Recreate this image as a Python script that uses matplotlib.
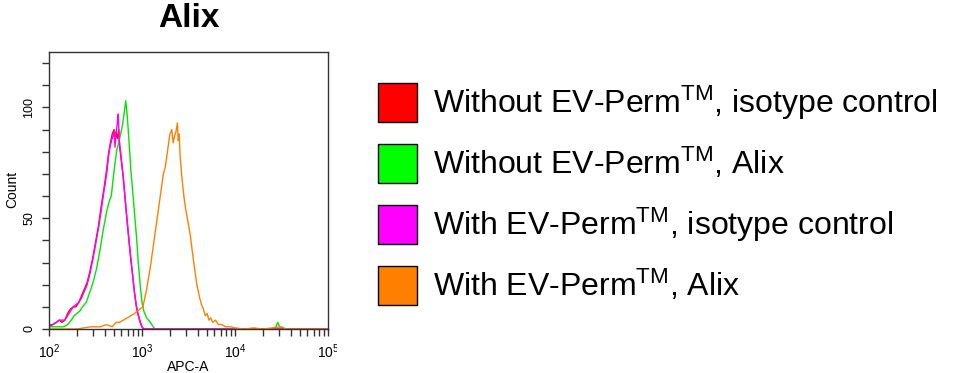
import numpy as np
import matplotlib
matplotlib.use("Agg")
import matplotlib.pyplot as plt
from matplotlib.patches import Patch, Rectangle
from matplotlib.ticker import FixedLocator, NullFormatter

plt.rcParams['font.family'] = ['Liberation Sans', 'DejaVu Sans']
plt.rcParams['mathtext.fontset'] = 'custom'
plt.rcParams['mathtext.rm'] = 'Liberation Sans'
plt.rcParams['mathtext.it'] = 'Liberation Sans'
plt.rcParams['mathtext.bf'] = 'Liberation Sans:bold'

# ---- data (x in log10 APC-A units, y = count) ----
red_logx = [2.00, 2.04, 2.08, 2.11, 2.14, 2.17, 2.20, 2.23, 2.26, 2.29, 2.32, 2.35, 2.38, 2.41,
            2.44, 2.47, 2.50, 2.53, 2.56, 2.59, 2.62, 2.64, 2.66, 2.68, 2.70, 2.71, 2.72, 2.735,
            2.75, 2.76, 2.78, 2.80, 2.82, 2.84, 2.86, 2.88, 2.90, 2.92, 2.94, 2.96, 2.98, 3.00,
            3.02, 5.00]
red_count = [1, 2, 3, 4, 3, 4, 7, 9, 10, 10, 12, 15, 18, 21,
             26, 32, 39, 46, 55, 63, 72, 79, 84, 88, 90, 84, 89, 86,
             90, 82, 75, 68, 58, 49, 40, 31, 24, 16, 10, 6, 3, 1,
             0, 0]

green_logx = [2.00, 2.10, 2.16, 2.20, 2.24, 2.27, 2.30, 2.33, 2.36, 2.40, 2.45, 2.48, 2.51,
              2.55, 2.58, 2.62, 2.65, 2.67, 2.69, 2.71, 2.73, 2.75, 2.77, 2.79, 2.81, 2.825,
              2.84, 2.86, 2.88, 2.90, 2.92, 2.94, 2.96, 2.98, 3.00, 3.02, 3.05, 3.09, 3.12,
              3.14, 4.40, 4.44, 4.46, 4.48, 4.52, 5.00]
green_count = [1, 1, 1, 2, 4, 6, 7, 8, 10, 12, 18, 22, 27,
               36, 44, 53, 58, 60, 68, 75, 81, 84, 88, 92, 98, 103,
               97, 85, 72, 62, 52, 42, 30, 20, 12, 8, 5, 3, 1,
               0, 0, 1, 3, 1, 0, 0]

magenta_logx = [2.000, 2.003, 2.04, 2.08, 2.11, 2.14, 2.17, 2.20, 2.23, 2.26, 2.29, 2.32, 2.35,
                2.38, 2.41, 2.44, 2.47, 2.50, 2.53, 2.56, 2.59, 2.62, 2.64, 2.66, 2.68, 2.70,
                2.71, 2.72, 2.735, 2.745, 2.755, 2.77, 2.79, 2.81, 2.83, 2.85, 2.87, 2.89,
                2.91, 2.93, 2.95, 2.97, 2.99, 3.01, 5.00]
magenta_count = [17, 2, 2, 3, 4, 4, 4, 6, 8, 10, 11, 12, 14,
                 17, 20, 25, 31, 38, 45, 53, 62, 70, 78, 83, 86, 89,
                 82, 88, 93, 97, 85, 80, 72, 63, 53, 44, 36, 28,
                 20, 13, 8, 5, 2, 0, 0]

orange_logx = [2.00, 2.30, 2.45, 2.55, 2.62, 2.68, 2.72, 2.76, 2.80, 2.84, 2.88, 2.92, 2.95,
               2.98, 3.01, 3.03, 3.05, 3.07, 3.09, 3.11, 3.13, 3.16, 3.19, 3.21, 3.23, 3.25,
               3.28, 3.30, 3.32, 3.335, 3.35, 3.365, 3.38, 3.39, 3.40, 3.41, 3.43, 3.45, 3.47,
               3.50, 3.52, 3.55, 3.57, 3.59, 3.62, 3.64, 3.66, 3.68, 3.70, 3.72, 3.74, 3.76,
               3.79, 3.82, 3.86, 3.90, 3.95, 4.00, 4.10, 4.20, 4.30, 4.50, 4.55, 5.00]
orange_count = [0, 0, 1, 1, 2, 1, 3, 3, 4, 5, 6, 7, 8,
                9, 10, 14, 18, 23, 28, 34, 40, 49, 58, 64, 70, 73,
                82, 88, 90, 84, 87, 89, 93, 85, 88, 78, 68, 60, 54,
                47, 42, 32, 26, 20, 14, 11, 9, 6, 7, 4, 5, 3,
                4, 2, 2, 1, 1, 0.5, 0, 0.5, 0, 1, 0, 0]

series_labels = [r'Without EV-Perm$^{\mathrm{TM}}$, isotype control',
                 r'Without EV-Perm$^{\mathrm{TM}}$, Alix',
                 r'With EV-Perm$^{\mathrm{TM}}$, isotype control',
                 r'With EV-Perm$^{\mathrm{TM}}$, Alix']
line_colors = ['#ff0000', '#00e600', '#ff00ff', '#ff8000']
patch_colors = ['#ff0000', '#00ff00', '#ff00ff', '#ff8000']

x_major = [1e2, 1e3, 1e4, 1e5]
x_major_labels = [r'$\mathregular{10^{2}}$', r'$\mathregular{10^{3}}$',
                  r'$\mathregular{10^{4}}$', r'$\mathregular{10^{5}}$']
y_major = [0, 50, 100]
y_minor = list(range(0, 130, 10))

# ---- figure ----
W, H = 956, 373
fig = plt.figure(figsize=(W / 100, H / 100), dpi=100)
ax = fig.add_axes([49 / W, 1 - 329 / H, (328 - 49) / W, (329 - 52) / H])

series = [(red_logx, red_count), (green_logx, green_count),
          (magenta_logx, magenta_count), (orange_logx, orange_count)]
for (lx, cnt), c in zip(series, line_colors):
    ax.plot(10 ** np.asarray(lx), cnt, color=c, lw=1.0)

ax.set_xscale('log')
ax.set_xlim(1e2, 1e5)
ax.set_ylim(0, 125)
ax.xaxis.set_major_locator(FixedLocator(x_major))
ax.set_xticklabels(x_major_labels)
minor_x = [m * 10 ** d for d in range(2, 5) for m in range(2, 10)]
ax.xaxis.set_minor_locator(FixedLocator(minor_x))
ax.xaxis.set_minor_formatter(NullFormatter())
ax.yaxis.set_major_locator(FixedLocator(y_major))
ax.yaxis.set_minor_locator(FixedLocator(y_minor))
ax.set_yticklabels([str(v) for v in y_major], rotation=90, va='center')

ax.tick_params(which='both', direction='out', length=5, width=1, color='#333333')
ax.tick_params(axis='x', labelsize=10, pad=5)
ax.tick_params(axis='y', labelsize=9, pad=5)
for s in ax.spines.values():
    s.set_color('#333333')
    s.set_linewidth(1)

ax.set_xlabel('APC-A', fontsize=10)
ax.xaxis.set_label_coords(0.5, -0.112)
fig.text(12 / W, 1 - 189 / H, 'Count', rotation=90, ha='center', va='center', fontsize=10)
ax.set_title('Alix', fontsize=24, fontweight='bold', pad=18)

# white mask cutting the last tick label like the original crop
fig.add_artist(Rectangle((337 / W, 0), 30 / W, 40 / H, transform=fig.transFigure,
                         facecolor='white', edgecolor='none', zorder=10))

handles = [Patch(facecolor=c, edgecolor='black', linewidth=1) for c in patch_colors]
fig.legend(handles, series_labels, loc='upper left', bbox_to_anchor=(378 / W, 1 - 83 / H),
           frameon=False, fontsize=23, handlelength=1.22, handleheight=1.5,
           handletextpad=0.5, labelspacing=0.69, borderpad=0, borderaxespad=0)

fig.savefig('out.png', dpi=100)
